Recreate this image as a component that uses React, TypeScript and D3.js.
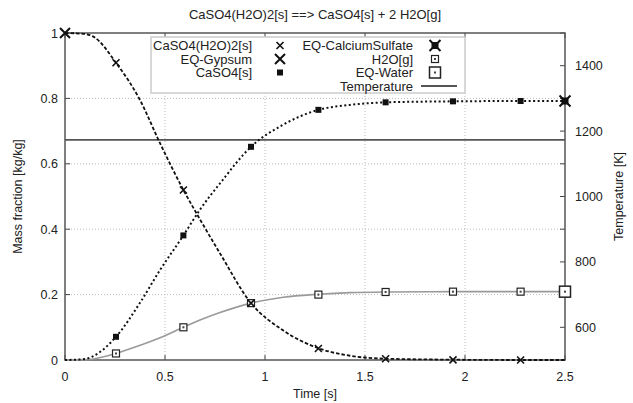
import React, { useRef, useEffect } from "react";
import * as d3 from "d3";

// times where the solver wrote marker points
const sampleTimes = [0.255, 0.592, 0.93, 1.267, 1.603, 1.94, 2.278];
const gypsumSamples = [0.909, 0.52, 0.174, 0.035, 0.004, 0.0005, 0];
const caso4Samples = [0.071, 0.381, 0.652, 0.765, 0.788, 0.791, 0.792];
const waterSamples = [0.02, 0.1, 0.174, 0.2, 0.208, 0.209, 0.209];

// finer points
const curveTimes = [0, 0.1, 0.142, 0.255, 0.375, 0.475, 0.592, 0.675, 0.775, 0.93, 1.092, 1.267, 1.425, 1.603, 1.94, 2.278, 2.5];
const gypsumCurve = [1, 0.997, 0.989, 0.909, 0.795, 0.663, 0.52, 0.43, 0.326, 0.174, 0.09, 0.036, 0.013, 0.004, 0.001, 0, 0];
const caso4Curve = [0, 0.003, 0.012, 0.071, 0.175, 0.275, 0.381, 0.46, 0.54, 0.652, 0.72, 0.765, 0.78, 0.788, 0.791, 0.792, 0.792];
const waterCurve = [0, 0.001, 0.003, 0.02, 0.045, 0.068, 0.1, 0.122, 0.145, 0.174, 0.192, 0.201, 0.206, 0.208, 0.209, 0.209, 0.209];

// equilibrium values
const eqGypsum = [{ t: 0, v: 1 }];
const eqCaSO4 = [{ t: 2.5, v: 0.792 }];
const eqWater = [{ t: 2.5, v: 0.209 }];

const tempTimes = [0, 2.5];
const tempValues = [1173, 1173];

const xTicks = [0, 0.5, 1, 1.5, 2, 2.5];
const yTicks = [0, 0.2, 0.4, 0.6, 0.8, 1];
const tTicks = [600, 800, 1000, 1200, 1400];

const title = "CaSO4(H2O)2[s] ==> CaSO4[s] + 2 H2O[g]";
const FONT = "'Liberation Sans', Arial, sans-serif";

function App() {
  const ref = useRef<SVGSVGElement>(null);

  useEffect(() => {
    const width = 633;
    const height = 403;
    const margin = { top: 33, right: 68, bottom: 43, left: 65 };
    const W = width - margin.left - margin.right;
    const H = height - margin.top - margin.bottom;

    const root = d3.select(ref.current);
    root.selectAll("*").remove();
    root.attr("width", width).attr("height", height);

    const x = d3.scaleLinear().domain([0, 2.5]).range([0, W]);
    const y = d3.scaleLinear().domain([0, 1]).range([H, 0]);
    const yT = d3.scaleLinear().domain([500, 1500]).range([H, 0]);

    const svg = root.append("g").attr("transform", `translate(${margin.left},${margin.top})`);

    // grid
    svg.selectAll(".gx")
      .data(xTicks.slice(1, -1))
      .enter()
      .append("line")
      .attr("x1", (d) => x(d)).attr("x2", (d) => x(d))
      .attr("y1", 0).attr("y2", H)
      .style("stroke", "#bbb").style("stroke-dasharray", "1,2");
    svg.selectAll(".gy")
      .data(yTicks.slice(1, -1))
      .enter()
      .append("line")
      .attr("x1", 0).attr("x2", W)
      .attr("y1", (d) => y(d)).attr("y2", (d) => y(d))
      .style("stroke", "#bbb").style("stroke-dasharray", "1,2");

    // ticks (inward, gnuplot style)
    const tk = 5;
    xTicks.forEach((d) => {
      svg.append("line").attr("x1", x(d)).attr("x2", x(d)).attr("y1", H).attr("y2", H - tk).style("stroke", "#444");
      svg.append("line").attr("x1", x(d)).attr("x2", x(d)).attr("y1", 0).attr("y2", tk).style("stroke", "#444");
      svg.append("text")
        .attr("x", x(d)).attr("y", H + 21)
        .style("text-anchor", "middle").style("font-size", "12.5px")
        .style("font-family", FONT).style("fill", "#222")
        .text(d3.format("~g")(d));
    });
    yTicks.forEach((d) => {
      svg.append("line").attr("x1", 0).attr("x2", tk).attr("y1", y(d)).attr("y2", y(d)).style("stroke", "#444");
      svg.append("line").attr("x1", W).attr("x2", W - tk).attr("y1", y(d)).attr("y2", y(d)).style("stroke", "#444");
      svg.append("text")
        .attr("x", -7).attr("y", y(d) + 4.5)
        .style("text-anchor", "end").style("font-size", "12.5px")
        .style("font-family", FONT).style("fill", "#222")
        .text(d3.format("~g")(d));
    });
    tTicks.forEach((d) => {
      svg.append("line").attr("x1", W).attr("x2", W - tk).attr("y1", yT(d)).attr("y2", yT(d)).style("stroke", "#444");
      svg.append("text")
        .attr("x", W + 10).attr("y", yT(d) + 4.5)
        .style("text-anchor", "start").style("font-size", "12.5px")
        .style("font-family", FONT).style("fill", "#222")
        .text(d);
    });

    // frame
    svg.append("rect")
      .attr("x", 0).attr("y", 0).attr("width", W).attr("height", H)
      .style("fill", "none").style("stroke", "#555").style("stroke-width", 1.5);

    // temperature
    const tLine = d3.line<number>().x((d, i) => x(tempTimes[i])).y((d) => yT(d));
    svg.append("path")
      .attr("d", tLine(tempValues))
      .style("fill", "none").style("stroke", "#555").style("stroke-width", 1.8);

    // curves
    const curve = (vals: number[]) =>
      d3.line<number>().x((d, i) => x(curveTimes[i])).y((d) => y(d)).curve(d3.curveMonotoneX)(vals);

    svg.append("path").attr("d", curve(waterCurve))
      .style("fill", "none").style("stroke", "#9a9a9a").style("stroke-width", 1.6);
    svg.append("path").attr("d", curve(caso4Curve))
      .style("fill", "none").style("stroke", "#111").style("stroke-width", 2).style("stroke-dasharray", "2,2.5");
    svg.append("path").attr("d", curve(gypsumCurve))
      .style("fill", "none").style("stroke", "#111").style("stroke-width", 1.8).style("stroke-dasharray", "3.5,2");

    // marker helpers
    const cross = (g: any, cx: number, cy: number, r: number, w: number) => {
      g.append("path")
        .attr("d", `M${cx - r},${cy - r}L${cx + r},${cy + r}M${cx - r},${cy + r}L${cx + r},${cy - r}`)
        .style("stroke", "#111").style("stroke-width", w).style("fill", "none");
    };
    const fbox = (g: any, cx: number, cy: number, s: number) => {
      g.append("rect").attr("x", cx - s / 2).attr("y", cy - s / 2).attr("width", s).attr("height", s).style("fill", "#111");
    };
    const obox = (g: any, cx: number, cy: number, s: number, w: number) => {
      g.append("rect").attr("x", cx - s / 2).attr("y", cy - s / 2).attr("width", s).attr("height", s)
        .style("fill", "white").style("stroke", "#222").style("stroke-width", w);
      g.append("rect").attr("x", cx - 1).attr("y", cy - 1).attr("width", 2).attr("height", 2).style("fill", "#444");
    };
    const star = (g: any, cx: number, cy: number) => {
      fbox(g, cx, cy, 7);
      cross(g, cx, cy, 5.5, 2);
    };

    sampleTimes.forEach((t, i) => {
      obox(svg, x(t), y(waterSamples[i]), 7, 1.2);
      fbox(svg, x(t), y(caso4Samples[i]), 6);
      cross(svg, x(t), y(gypsumSamples[i]), 3.5, 1.6);
    });
    eqGypsum.forEach((d) => cross(svg, x(d.t), y(d.v), 5, 2));
    eqCaSO4.forEach((d) => star(svg, x(d.t), y(d.v)));
    eqWater.forEach((d) => obox(svg, x(d.t), y(d.v), 11, 1.5));

    // legend
    const lg = root.append("g");
    lg.append("rect")
      .attr("x", 151).attr("y", 37).attr("width", 314).attr("height", 56)
      .style("fill", "white").style("stroke", "#ccc").style("stroke-width", 1.5);
    const rowY = [45.5, 59, 72.5, 86];
    const addText = (tx: number, ty: number, s: string) =>
      lg.append("text").attr("x", tx).attr("y", ty + 4.5)
        .style("text-anchor", "end").style("font-size", "13px")
        .style("font-family", FONT).style("fill", "#222").text(s);
    addText(252, rowY[0], "CaSO4(H2O)2[s]");
    cross(lg, 280, rowY[0], 3.5, 1.6);
    addText(252, rowY[1], "EQ-Gypsum");
    cross(lg, 280, rowY[1], 5, 2);
    addText(252, rowY[2], "CaSO4[s]");
    fbox(lg, 280, rowY[2], 6);
    addText(413, rowY[0], "EQ-CalciumSulfate");
    star(lg, 435, rowY[0]);
    addText(413, rowY[1], "H2O[g]");
    obox(lg, 435, rowY[1], 7, 1.2);
    addText(413, rowY[2], "EQ-Water");
    obox(lg, 435, rowY[2], 11, 1.5);
    addText(413, rowY[3], "Temperature");
    lg.append("line").attr("x1", 421).attr("x2", 457).attr("y1", rowY[3]).attr("y2", rowY[3])
      .style("stroke", "#555").style("stroke-width", 1.8);

    // titles
    root.append("text")
      .attr("x", margin.left + W / 2).attr("y", 19)
      .style("text-anchor", "middle").style("font-size", "13px")
      .style("font-family", FONT).style("fill", "#222").text(title);
    root.append("text")
      .attr("x", margin.left + W / 2).attr("y", 398)
      .style("text-anchor", "middle").style("font-size", "12.5px")
      .style("font-family", FONT).style("fill", "#222").text("Time [s]");
    root.append("text")
      .attr("transform", `translate(22,${margin.top + H / 2}) rotate(-90)`)
      .style("text-anchor", "middle").style("font-size", "12.5px")
      .style("font-family", FONT).style("fill", "#222").text("Mass fraction [kg/kg]");
    root.append("text")
      .attr("transform", `translate(623,${margin.top + H / 2}) rotate(-90)`)
      .style("text-anchor", "middle").style("font-size", "12.5px")
      .style("font-family", FONT).style("fill", "#222").text("Temperature [K]");
  }, []);

  return <svg ref={ref} style={{ position: "absolute", left: 0, top: 0 }}></svg>;
}

export default App;
